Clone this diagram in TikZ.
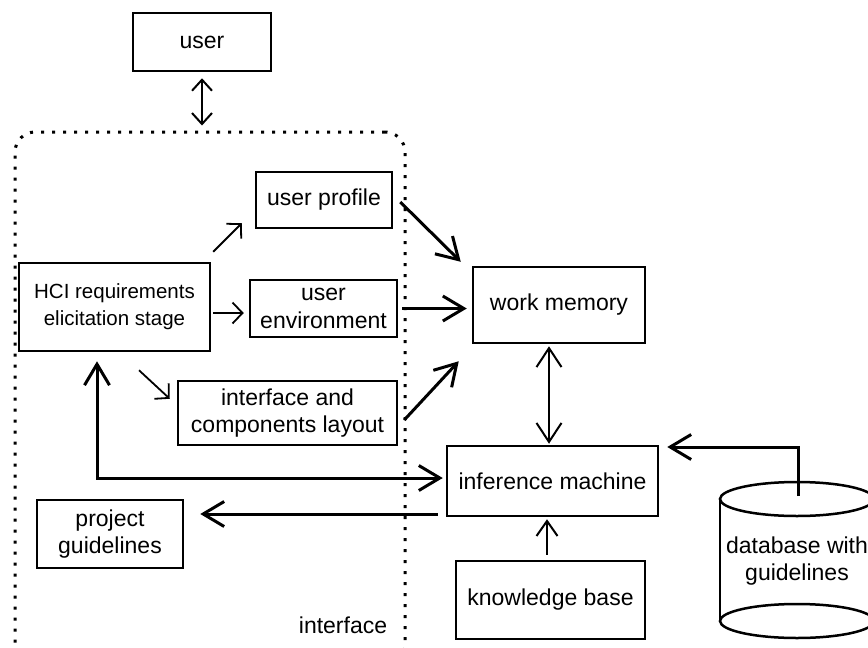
\documentclass[tikz,border=0pt]{standalone}
\usepackage{fontspec}
\setmainfont{Liberation Sans}
\usetikzlibrary{arrows.meta,calc}
\begin{document}
\begin{tikzpicture}[x=1pt,y=-1pt,
  txt/.style={align=center,inner sep=0,font=\fontsize{23}{27.5}\selectfont},
  box/.style={txt,draw,line width=2.5},
  thinarr/.style={line width=1.8,-{Straight Barb[length=10,width=21]}},
  medarr/.style={line width=2,-{Straight Barb[length=15,width=21]}},
  dblarr/.style={line width=2,{Straight Barb[length=19,width=25]}-{Straight Barb[length=19,width=25]}},
  userarr/.style={line width=2,{Straight Barb[length=11,width=20]}-{Straight Barb[length=11,width=20]}},
  thickarr/.style={line width=3,-{Straight Barb[length=21,width=25]}},
  thickdbl/.style={line width=3,{Straight Barb[length=21,width=25]}-{Straight Barb[length=21,width=25]}},
]
\useasboundingbox (0,0) rectangle (868,648);
% dotted interface frame
\node[draw,line width=3,dash pattern=on 3pt off 8pt,rounded corners=20pt,
      minimum width=390,minimum height=536,inner sep=0] (iface) at (210,400) {};
\node[txt] (lbl) at (343,625) {interface};
% boxes
\node[box,minimum width=138,minimum height=58] (user) at (202,42) {user};
\node[box,minimum width=136,minimum height=56] (up) at (324,200) {user profile};
\node[box,minimum width=191,minimum height=88,font=\fontsize{20.5}{27}\selectfont] (hci) at (114.5,307) {HCI requirements\\elicitation stage};
\node[box,minimum width=147,minimum height=57] (ue) at (323.5,308.5) {user\\environment};
\node[box,minimum width=219,minimum height=64] (icl) at (287.5,413) {interface and\\components layout};
\node[box,minimum width=146,minimum height=68] (pg) at (110,534) {project\\guidelines};
\node[box,minimum width=172,minimum height=76] (wm) at (559,305) {work memory};
\node[box,minimum width=211,minimum height=70] (im) at (552.5,481) {inference machine};
\node[box,minimum width=189,minimum height=78] (kb) at (550.5,600) {knowledge base};
% database cylinder
\draw[line width=2.5] (720,499) -- (720,621) (874,499) -- (874,621);
\draw[line width=2.5] (797,499) ellipse [x radius=77pt, y radius=17pt];
\draw[line width=2.5] (797,621) ellipse [x radius=77pt, y radius=17pt];
\node[txt] (db) at (797,561) {database with\\guidelines};
\coordinate (dbtop) at (798,496);
% connectors
\draw[userarr] ($(user.south)+(0,6)$) -- ($(user.south |- iface.north)+(0,-5)$);
\draw[thinarr] ($(hci.north east)+(2,-10)$) -- ($(up.south west)+(-13,-6)$);
\draw[thinarr] ($(hci.east)+(2,6)$) -- ($(ue.west)+(-5,4.5)$);
\draw[thinarr] ($(hci.south)+(24.5,18)$) -- ($(icl.north west)+(-7,19)$);
\draw[thickarr] ($(up.east)+(7,2)$) -- ($(wm.north west)+(-11,-4)$);
\draw[thickarr] ($(ue.east)+(4,0)$) -- ($(wm.west |- ue.east)+(-5,0)$);
\draw[thickarr] ($(icl.east)+(6,7)$) -- ($(wm.south west)+(-13,17)$);
\draw[dblarr] ($(wm.south)+(-10,2)$) -- ($(wm.south |- im.north)+(-10,-1)$);
\draw[thickdbl] ($(hci.south)+(-17.5,9)$) |- ($(im.west)+(-3,-3)$);
\coordinate (pgstart) at ($(im.west)+(-8,33)$);
\draw[thickarr] (pgstart) -- ($(pg.east |- pgstart)+(16,0)$);
\draw[medarr] ($(kb.north)+(-3.5,-5)$) -- ($(kb.north |- im.south)+(-3.5,2)$);
\draw[thickarr] (dbtop) |- ($(im.east)+(8,-34)$);
\end{tikzpicture}
\end{document}
